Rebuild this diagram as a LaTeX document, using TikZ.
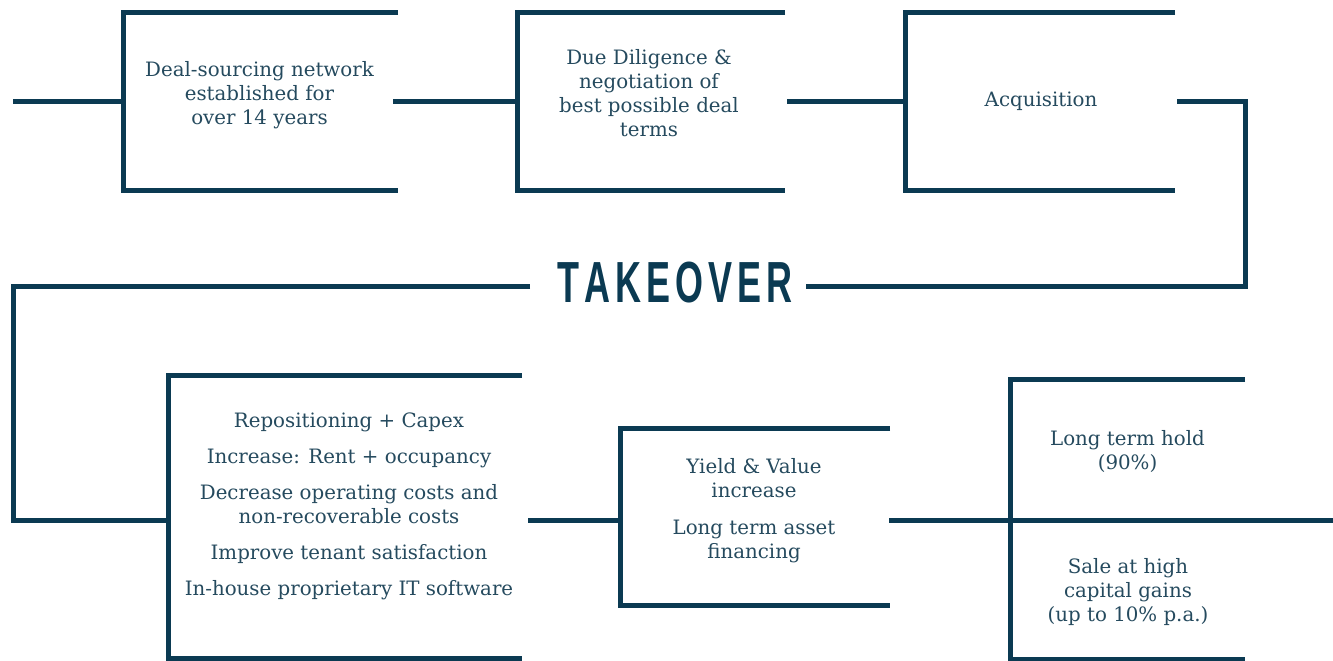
\documentclass[tikz,border=0pt]{standalone}
\usepackage{fontspec}
\setmainfont{DejaVu Serif}
\newfontfamily\tkfont{Liberation Sans}
\definecolor{navy}{HTML}{0B3A52}
\definecolor{navytext}{HTML}{254A5E}
\begin{document}
\begin{tikzpicture}[x=1pt,y=-1pt,
  ln/.style={line width=5pt, draw=navy, line join=miter},
  txt/.style={text=navytext, font=\fontsize{19.8}{24}\selectfont, align=center, inner sep=0pt}]
\useasboundingbox (0,0) rectangle (1333,661);

% text nodes
\node[txt] (t1) at (259.5,95) {Deal-sourcing network\\established for\\over 14 years};
\node[txt] (t2) at (649,93) {Due Diligence \&\\negotiation of\\best possible deal\\terms};
\node[txt] (t3) at (1041,101) {Acquisition};
\node[inner sep=0pt, text=navy] (tk) at (675,283) {\scalebox{0.62}[1]{\tkfont\bfseries\fontsize{58}{58}\selectfont T\kern8pt A\kern8pt K\kern8pt E\kern8pt O\kern8pt V\kern8pt E\kern8pt R}};
\node[txt] (t4) at (349,506.5) {Repositioning + Capex\\[12pt]Increase: Rent + occupancy\\[12pt]Decrease operating costs and\\non-recoverable costs\\[12pt]Improve tenant satisfaction\\[12pt]In-house proprietary IT software};
\node[txt] (t5) at (754,511) {Yield \& Value\\increase\\[13pt]Long term asset\\financing};
\node[txt] (t6a) at (1127.5,452) {Long term hold\\(90\%)};
\node[txt] (t6b) at (1128,592) {Sale at high\\capital gains\\(up to 10\% p.a.)};

% coordinates
\coordinate (start) at (13,101);
\coordinate (b1l) at (123,101);
\coordinate (b1r) at (393,101);
\coordinate (b2l) at (517,101);
\coordinate (b2r) at (787,101);
\coordinate (b3l) at (905,101);
\coordinate (b3r) at (1177,101);
\coordinate (tkr) at (806,286);
\coordinate (tkl) at (530,286);
\coordinate (b4l) at (168,520);
\coordinate (b4r) at (528,520);
\coordinate (b5l) at (620,520);
\coordinate (b5r) at (889,520);
\coordinate (end) at (1333,520);

% boxes
\draw[ln] (398,13) -- (123,13) -- (123,190) -- (398,190);
\draw[ln] (785,13) -- (517,13) -- (517,190) -- (785,190);
\draw[ln] (1175,13) -- (905,13) -- (905,190) -- (1175,190);
\draw[ln] (522,375) -- (168,375) -- (168,658) -- (522,658);
\draw[ln] (890,428) -- (620,428) -- (620,605) -- (890,605);
\draw[ln] (1245,379) -- (1010,379) -- (1010,661);
\draw[ln] (1010,659) -- (1245,659);

% connectors
\draw[ln] (start) -- (b1l);
\draw[ln] (b1r) -- (b2l);
\draw[ln] (b2r) -- (b3l);
\draw[ln] (b3r) -| (1245,286) -- (tkr);
\draw[ln] (tkl) -| (13,520) -- (b4l);
\draw[ln] (b4r) -- (b5l);
\draw[ln] (b5r) -- (end);
\end{tikzpicture}
\end{document}
